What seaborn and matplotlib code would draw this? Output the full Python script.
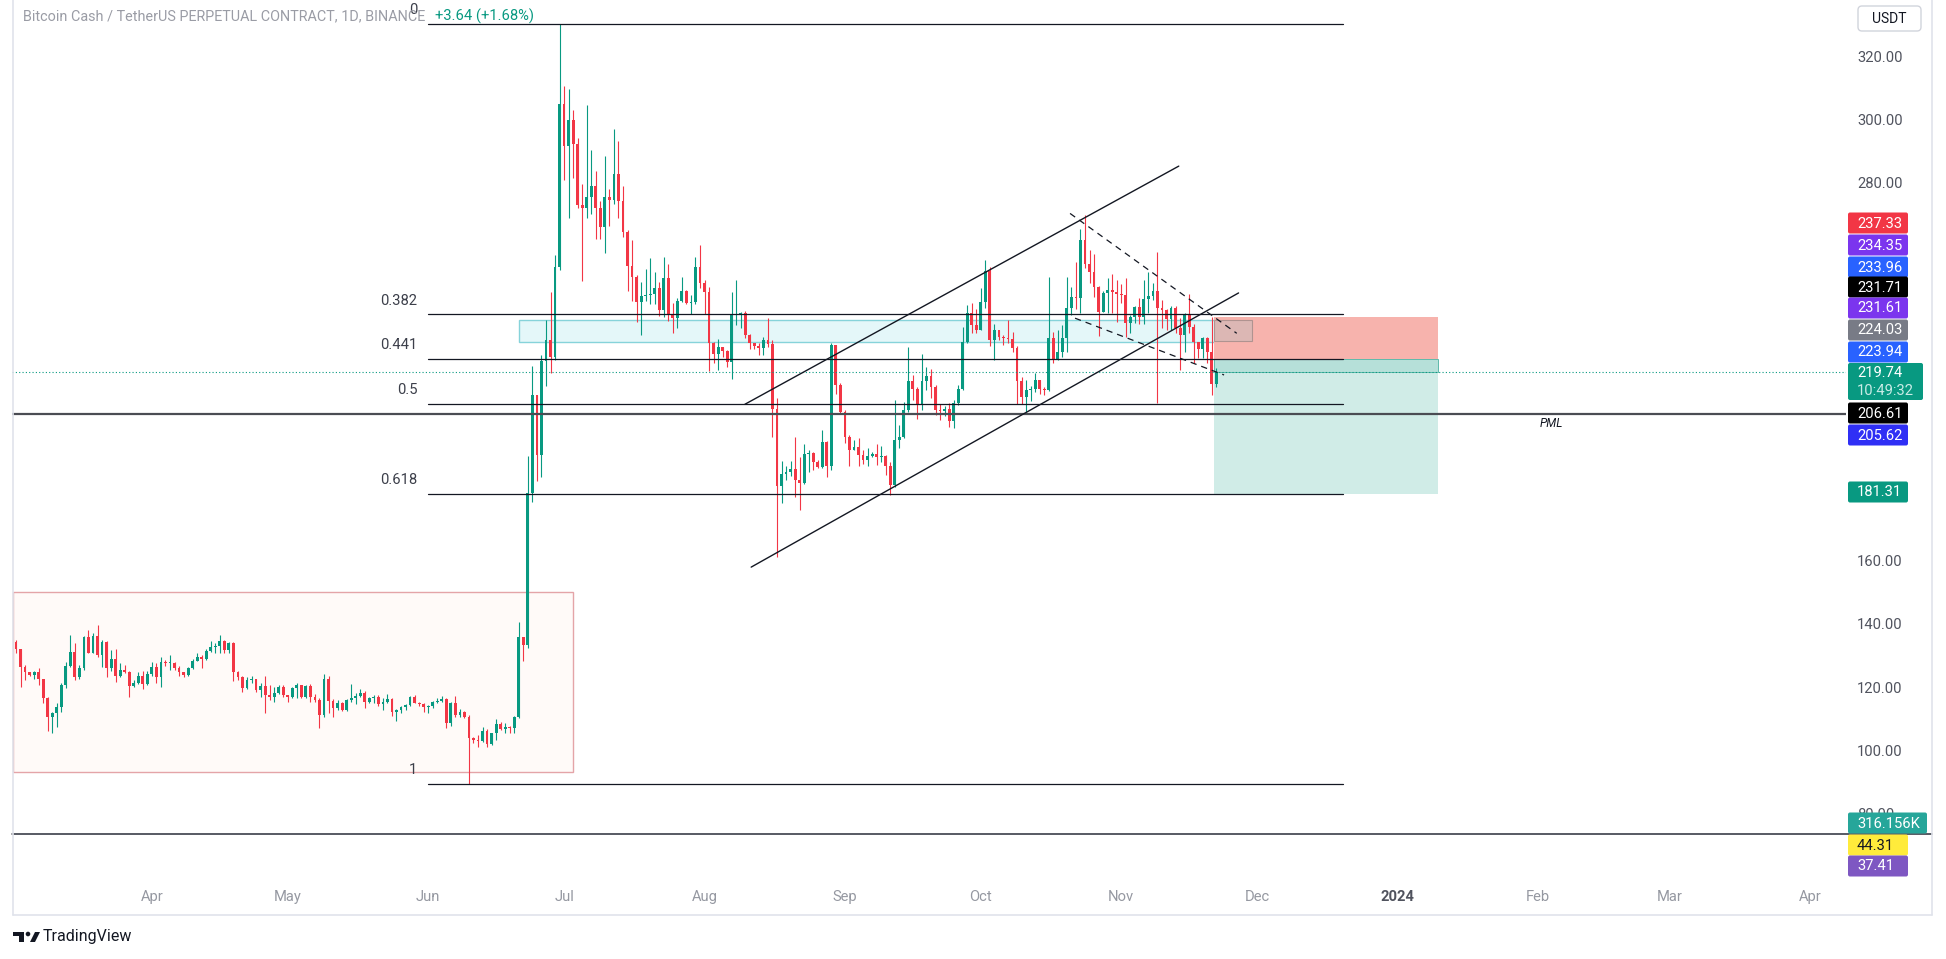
import matplotlib
matplotlib.use("Agg")
import matplotlib.pyplot as plt
import matplotlib.dates as mdates
from matplotlib.patches import Rectangle, FancyBboxPatch, Circle, Polygon
import pandas as pd
import seaborn as sns

# ---- daily candles, BCH/USDT perp, 2023-03-02 .. 2023-11-22 ----
first_day = "2023-03-02"
first_open = 134.4

closes = [
    131.9, 126.4, 124.6, 123.8, 124.9, 122.4, 116.4, 110.4, 111.9, 113.6,
    120.6, 126.7, 131.2, 123.1, 125.9, 135.8, 130.9, 136.2, 130.2, 134.4,
    125.9, 128.8, 123.5, 125.4, 124.9, 120.3, 121.4, 123.5, 121.0, 124.1,
    126.4, 123.1, 128.0, 127.5, 127.7, 125.9, 124.6, 123.8, 125.9, 128.4,
    129.4, 128.8, 131.5, 132.6, 133.0, 134.7, 131.7, 134.1, 124.9, 123.1,
    119.6, 122.2, 122.4, 119.1, 120.3, 117.5, 116.9, 118.2, 120.1, 117.5,
    116.9, 119.6, 120.6, 116.9, 120.3, 116.9, 115.9, 111.2, 122.4, 115.7,
    113.2, 115.0, 112.7, 115.9, 116.4, 117.2, 118.2, 115.4, 116.4, 116.9,
    114.6, 115.4, 116.1, 112.2, 112.7, 113.6, 114.3, 116.9, 115.0, 114.6,
    113.6, 114.0, 115.4, 115.7, 116.1, 108.7, 115.0, 111.2, 112.2, 110.4,
    103.7, 103.2, 103.0, 105.9, 102.0, 105.3, 108.3, 106.6, 107.4, 106.9,
    110.4, 136.0, 133.3, 181.6, 212.5, 193.5, 223.4, 230.0, 224.7, 253.1,
    304.8, 291.5, 299.7, 292.1, 272.8, 271.8, 275.4, 278.8, 271.8, 265.7,
    275.4, 274.4, 282.6, 274.1, 264.2, 253.4, 250.0, 242.0, 243.9, 244.2,
    244.6, 246.5, 239.5, 249.6, 238.2, 237.0, 242.4, 245.5, 241.6, 242.0,
    253.1, 248.0, 245.2, 228.9, 225.5, 227.7, 226.4, 223.0, 237.8, 238.2,
    238.6, 231.5, 228.9, 228.0, 227.3, 229.9, 228.7, 208.0, 183.7, 187.5,
    188.3, 189.0, 185.6, 184.7, 193.8, 194.2, 191.4, 189.8, 197.7, 190.0,
    228.4, 215.7, 207.2, 199.3, 195.1, 196.1, 193.5, 191.9, 193.2, 194.0,
    193.0, 193.2, 190.0, 184.0, 198.3, 199.3, 207.8, 217.1, 214.3, 209.3,
    217.1, 218.5, 215.2, 207.8, 207.6, 208.2, 204.4, 210.1, 214.6, 229.4,
    238.4, 234.7, 233.3, 242.1, 252.0, 230.0, 233.1, 231.0, 230.5, 230.2,
    227.3, 217.0, 212.0, 214.1, 214.6, 217.3, 214.4, 214.0, 230.5, 223.6,
    226.3, 230.5, 240.0, 243.7, 243.2, 261.7, 254.1, 251.6, 246.9, 239.0,
    245.0, 245.8, 245.3, 244.6, 244.3, 235.3, 237.4, 240.3, 237.2, 243.0,
    243.9, 245.6, 240.0, 239.5, 236.5, 240.0, 233.7, 231.6, 237.9, 234.0,
    229.5, 227.0, 230.5, 226.3, 216.1, 219.74,
]

highs = [
    134.9, 131.9, 127.0, 124.9, 125.2, 126.0, 122.4, 116.7, 112.2, 114.8,
    121.4, 128.0, 136.5, 133.8, 127.0, 136.2, 138.1, 137.0, 139.7, 134.9,
    134.7, 131.7, 131.9, 127.7, 127.0, 125.2, 122.2, 124.9, 125.2, 125.2,
    128.0, 127.5, 129.6, 128.6, 130.2, 128.0, 126.7, 124.9, 126.4, 128.8,
    130.7, 130.2, 132.0, 134.7, 134.0, 136.5, 134.9, 134.4, 134.4, 125.2,
    123.5, 123.1, 123.5, 121.7, 121.2, 123.5, 120.6, 119.9, 120.6, 120.6,
    117.5, 119.9, 121.2, 120.3, 120.6, 120.9, 117.7, 116.6, 124.1, 123.5,
    116.1, 115.9, 115.4, 116.1, 120.9, 118.2, 119.3, 118.6, 116.9, 117.5,
    117.5, 116.4, 117.8, 116.4, 112.9, 114.0, 114.6, 117.2, 117.5, 115.4,
    114.8, 114.3, 115.7, 116.4, 117.2, 116.4, 115.4, 117.2, 112.9, 112.5,
    111.2, 104.3, 104.8, 107.2, 106.6, 105.5, 109.8, 109.0, 108.7, 107.6,
    110.8, 140.7, 136.0, 193.2, 221.8, 212.5, 225.2, 236.3, 245.2, 256.9,
    330.15, 310.5, 309.6, 302.9, 294.0, 279.4, 304.5, 290.2, 283.5, 274.0,
    288.3, 277.9, 296.9, 293.1, 278.8, 264.8, 261.7, 250.5, 248.4, 252.6,
    256.0, 251.5, 248.4, 256.4, 254.1, 241.6, 243.3, 250.0, 245.8, 244.2,
    256.4, 260.2, 249.0, 246.7, 229.3, 230.2, 227.7, 226.9, 245.2, 249.0,
    238.9, 239.1, 231.8, 229.0, 229.0, 231.0, 236.8, 230.0, 211.5, 191.7,
    190.0, 191.5, 199.3, 192.9, 197.0, 195.1, 194.6, 191.9, 201.6, 197.9,
    228.9, 225.7, 216.2, 207.7, 199.8, 198.3, 198.8, 195.1, 195.6, 194.6,
    197.0, 196.4, 193.5, 191.4, 211.0, 203.0, 210.4, 227.8, 218.9, 215.2,
    225.7, 221.3, 220.7, 215.7, 209.8, 209.0, 209.9, 210.9, 215.7, 234.2,
    241.0, 241.6, 239.7, 246.5, 255.5, 253.0, 235.2, 233.2, 231.5, 236.3,
    232.6, 228.0, 218.4, 217.3, 215.5, 219.4, 217.3, 215.0, 250.1, 232.6,
    233.2, 234.7, 250.1, 246.7, 254.8, 265.1, 269.6, 258.5, 257.2, 247.2,
    245.6, 249.5, 250.9, 249.0, 247.6, 249.5, 237.9, 240.8, 243.2, 249.0,
    251.6, 248.0, 258.0, 242.7, 239.7, 240.8, 240.8, 236.9, 238.4, 244.6,
    234.9, 229.5, 231.0, 230.8, 237.4, 221.0,
]

lows = [
    130.7, 119.9, 122.2, 123.5, 122.4, 120.6, 114.8, 106.2, 105.3, 107.4,
    112.2, 119.6, 126.4, 122.2, 122.4, 125.4, 130.7, 130.7, 129.6, 126.4,
    123.1, 125.2, 121.7, 123.1, 124.4, 116.7, 119.9, 120.9, 119.3, 120.6,
    123.5, 121.4, 119.9, 126.7, 125.4, 125.4, 123.5, 123.1, 123.5, 125.6,
    128.2, 126.0, 128.6, 131.2, 130.9, 130.7, 130.7, 130.7, 122.0, 122.2,
    118.5, 119.3, 121.4, 118.5, 116.9, 111.9, 115.9, 115.4, 117.8, 116.9,
    115.4, 116.4, 116.4, 116.4, 116.6, 115.4, 115.4, 107.1, 110.4, 111.7,
    110.4, 112.7, 112.5, 112.5, 115.4, 114.6, 116.9, 113.2, 114.8, 115.0,
    113.9, 112.7, 114.8, 110.8, 109.3, 111.7, 112.7, 113.9, 114.8, 113.9,
    112.2, 111.9, 113.2, 114.8, 115.4, 106.9, 107.6, 110.4, 110.4, 110.1,
    89.3, 102.2, 100.9, 102.7, 100.9, 101.6, 103.2, 106.4, 105.3, 105.3,
    105.5, 110.1, 128.4, 132.5, 178.6, 185.4, 186.6, 215.4, 219.6, 223.7,
    252.2, 280.7, 268.7, 281.3, 271.8, 248.8, 268.7, 269.9, 261.9, 261.9,
    257.6, 266.0, 273.1, 268.7, 262.7, 245.5, 242.4, 235.7, 231.5, 242.4,
    241.4, 241.4, 237.6, 237.3, 236.1, 232.3, 233.8, 242.0, 241.4, 238.2,
    241.4, 246.5, 238.2, 220.1, 222.6, 220.5, 224.5, 221.4, 217.6, 234.8,
    233.8, 230.6, 227.2, 227.2, 225.2, 225.2, 227.8, 199.3, 161.3, 178.4,
    185.6, 186.8, 180.3, 176.1, 184.5, 188.2, 188.7, 189.3, 189.3, 186.6,
    188.7, 213.0, 206.7, 197.2, 190.0, 195.0, 190.0, 190.8, 190.0, 193.0,
    190.3, 191.4, 187.2, 180.8, 183.5, 195.6, 198.8, 207.2, 210.9, 205.1,
    207.8, 214.1, 211.5, 206.2, 204.6, 206.0, 202.5, 202.0, 209.3, 214.1,
    228.9, 232.1, 232.3, 233.1, 240.0, 228.0, 223.6, 230.0, 228.4, 229.0,
    226.3, 209.7, 209.7, 207.3, 210.5, 213.6, 213.0, 212.6, 213.8, 222.6,
    224.7, 224.7, 226.3, 237.9, 239.9, 238.4, 252.8, 248.0, 243.7, 231.3,
    239.0, 238.4, 238.4, 235.8, 241.6, 230.8, 232.1, 235.3, 235.1, 235.1,
    238.4, 242.7, 209.9, 233.7, 233.1, 233.1, 232.1, 220.5, 226.3, 232.1,
    222.6, 224.2, 224.2, 222.6, 212.6, 215.2,
]

# fib retracement (swing high -> swing low)
fib_high = 330.15
fib_low = 89.3
fib_levels = [0, 0.382, 0.441, 0.5, 0.618, 1]
fib_names = ["0", "0.382", "0.441", "0.5", "0.618", "1"]

# short position tool
entry_price = 223.94
stop_price = 237.33
target_price = 181.31
last_price = 219.74

pml_price = 206.61
ob_top, ob_bottom = 236.3, 229.3          # cyan order block
range_top, range_bottom = 150.0, 93.1     # pink accumulation box
bottom_line_price = 73.4

# price-axis ticks that are not hidden behind the tags
price_ticks = [80, 100, 120, 140, 160, 280, 300, 320]

month_ticks = ["2023-04-01", "2023-05-01", "2023-06-01", "2023-07-01", "2023-08-01",
               "2023-09-01", "2023-10-01", "2023-11-01", "2023-12-01", "2024-01-01",
               "2024-02-01", "2024-03-01", "2024-04-01"]
month_labels = ["Apr", "May", "Jun", "Jul", "Aug", "Sep", "Oct", "Nov", "Dec", "2024",
                "Feb", "Mar", "Apr"]

# right-axis price tags: (y pixel centre, text, background, text colour)
axis_tags = [
    (223, "237.33", "#f23645", "white"),
    (245, "234.35", "#7b35ee", "white"),
    (267, "233.96", "#2962ff", "white"),
    (287, "231.71", "#000000", "white"),
    (308, "231.61", "#7b35ee", "white"),
    (330, "224.03", "#787b86", "white"),
    (352, "223.94", "#2962ff", "white"),
    (413, "206.61", "#000000", "white"),
    (435, "205.62", "#2f2ff5", "white"),
    (492, "181.31", "#089981", "white"),
    (823, "316.156K", "#26a69a", "white"),
    (845, "44.31", "#ffeb3b", "#131722"),
    (866, "37.41", "#7e57c2", "white"),
]

# ---------------------------------------------------------------
W, H = 1946, 959
sns.set_theme(style="white")
plt.rcParams["font.family"] = ["Roboto", "DejaVu Sans"]

fig = plt.figure(figsize=(W / 100, H / 100), dpi=100)
fig.patch.set_facecolor("white")
# price pane: x 12..1846 px, y 0..880 px
ax = fig.add_axes([12 / W, (H - 880) / H, 1834 / W, 880 / H])
ax.set_facecolor("white")
for s in ax.spines.values():
    s.set_visible(False)

d0 = mdates.date2num(pd.Timestamp(first_day))
dates = [d0 + i for i in range(len(closes))]
opens = [first_open] + closes[:-1]


def day(i):
    return d0 + i


GREEN, RED = "#089981", "#f23645"
cols = [GREEN if c >= o else RED for o, c in zip(opens, closes)]
hi = [max(h, o, c) for h, o, c in zip(highs, opens, closes)]
lo = [min(l, o, c) for l, o, c in zip(lows, opens, closes)]
ax.vlines(dates, lo, hi, colors=cols, lw=0.8, zorder=3)
bottoms = [min(o, c) for o, c in zip(opens, closes)]
heights = [max(abs(c - o), 0.3) for o, c in zip(opens, closes)]
ax.bar(dates, heights, bottom=bottoms, width=0.62, color=cols, lw=0, zorder=3)

ax.set_xlim(day(-0.883), day(404.0))
ax.set_ylim(58.83, 337.75)

# pink range box
ax.add_patch(Rectangle((day(-0.7), range_bottom), 123.7, range_top - range_bottom,
                       fc="#fffaf8", ec="#e4a4a8", lw=1.0, zorder=1))
# cyan order block
ax.add_patch(Rectangle((day(111.0), ob_bottom), 162.1, ob_top - ob_bottom,
                       fc="#e4f7f9", ec="#86d3da", lw=1.0, zorder=1.5))

# fib levels
fib_x0, fib_x1 = day(90.9), day(292.9)
for lvl, name in zip(fib_levels, fib_names):
    p = fib_high - lvl * (fib_high - fib_low)
    ax.plot([fib_x0, fib_x1], [p, p], color="#131722", lw=0.9, zorder=4)
    ax.annotate(name, (fib_x0, p), xytext=(-7.5, 9.8), textcoords="offset points",
                ha="right", va="center", fontsize=10.6, color="#3c3f4a", zorder=5)

# PML and current price
ax.axhline(pml_price, color="#4a4c53", lw=1.6, zorder=4)
ax.annotate("PML", (day(338.9), pml_price), xytext=(0, -2.5), textcoords="offset points",
            ha="center", va="top", fontsize=8.5, style="italic", color="#131722")
ax.axhline(last_price, color=GREEN, lw=0.8, ls=(0, (1, 2)), zorder=4)
ax.axhline(bottom_line_price, xmin=0, xmax=(1932 - 12) / 1834, color="#2a2e39",
           lw=1.1, clip_on=False, zorder=4)

# position tool
px0, pw = day(264.5), 49.4
ax.add_patch(Rectangle((px0, entry_price), pw, stop_price - entry_price,
                       fc="#f7b3ad", ec="none", zorder=2))
ax.add_patch(Rectangle((px0, target_price), pw, entry_price - target_price,
                       fc="#d0ece7", ec="none", zorder=2))
ax.add_patch(Rectangle((px0, last_price), pw, entry_price - last_price,
                       fc="#b6e0d9", ec="#5fb9aa", lw=0.7, zorder=2.2))
ax.add_patch(Rectangle((px0, 229.7), 8.4, 6.6, fc="#bdbdbd", alpha=0.45,
                       ec="#6b6b6b", lw=0.8, zorder=2.5))

# ascending channel
ax.plot([day(160.9), day(256.7)], [209.6, 285.1], color="#131722", lw=1.0, zorder=4)
ax.plot([day(162.3), day(269.9)], [158.0, 244.9], color="#131722", lw=1.0, zorder=4)
# falling dashed lines
ax.plot([day(232.7), day(269.5)], [270.1, 232.1], color="#131722", lw=0.9,
        ls=(0, (5, 4)), zorder=4)
ax.plot([day(233.8), day(266.7)], [236.9, 218.9], color="#131722", lw=0.9,
        ls=(0, (5, 4)), zorder=4)

# axes ticks
ax.yaxis.tick_right()
ax.set_yticks(price_ticks)
ax.set_yticklabels([f"{v:.2f}" for v in price_ticks])
ax.tick_params(axis="y", length=0, pad=8, labelsize=10.6, labelcolor="#50535e")
ax.set_xticks([mdates.date2num(pd.Timestamp(d)) for d in month_ticks])
ax.set_xticklabels(month_labels)
ax.tick_params(axis="x", length=0, pad=7, labelsize=10.6, labelcolor="#9598a1")
for t in ax.get_xticklabels():
    if t.get_text() == "2024":
        t.set_fontweight("bold")
        t.set_color("#50535e")
ax.grid(False)

# ---- overlay in pixel coordinates ----
ov = fig.add_axes([0, 0, 1, 1], zorder=10)
ov.set_xlim(0, W)
ov.set_ylim(H, 0)
ov.axis("off")
ov.patch.set_alpha(0)

for yc, txt, bg, fg in axis_tags:
    w = 79 if txt.endswith("K") else 60
    ov.add_patch(FancyBboxPatch((1848, yc - 10.5), w, 21,
                                boxstyle="round,pad=0,rounding_size=2", fc=bg, ec="none"))
    ov.text(1857, yc + 0.5, txt, color=fg, ha="left", va="center", fontsize=10.6)

# last price tag with countdown
ov.add_patch(FancyBboxPatch((1848, 363), 75, 37, boxstyle="round,pad=0,rounding_size=2",
                            fc=GREEN, ec="none"))
ov.text(1857, 373, "219.74", color="white", ha="left", va="center", fontsize=10.6)
ov.text(1857, 391, "10:49:32", color="#c8ece6", ha="left", va="center", fontsize=10.6)

# USDT box
ov.add_patch(FancyBboxPatch((1858, 6), 63, 25, boxstyle="round,pad=0,rounding_size=4",
                            fc="white", ec="#d1d4dc", lw=1.0))
ov.text(1889.5, 19, "USDT", color="#131722", ha="center", va="center", fontsize=10)

# chart frame
ov.plot([12.5, 12.5], [0, 914.5], color="#e0e3eb", lw=1.2)
ov.plot([12.5, 1932], [914.5, 914.5], color="#e0e3eb", lw=1.2)
ov.plot([1932, 1932], [0, 914.5], color="#e0e3eb", lw=1.2)

# title
title = ov.text(23, 16, "Bitcoin Cash / TetherUS PERPETUAL CONTRACT, 1D, BINANCE",
                color="#9a9ca5", ha="left", va="center", fontsize=10.4)
fig.canvas.draw()
bb = title.get_window_extent()
ov.text(bb.x1 + 10, 16, "+3.64 (+1.68%)", color=GREEN, ha="left", va="center",
        fontsize=10.6)

# TradingView logo
ov.add_patch(Rectangle((13, 932), 11, 4, fc="#131722", ec="none"))
ov.add_patch(Rectangle((18.5, 932), 5.5, 10, fc="#131722", ec="none"))
ov.add_patch(Circle((28, 934), 2.3, fc="#131722", ec="none"))
ov.add_patch(Polygon([(30, 942), (35, 942), (40, 932), (35, 932)], closed=True,
                     fc="#131722", ec="none"))
ov.text(43, 937, "TradingView", color="#131722", ha="left", va="center", fontsize=11.5)

fig.savefig("out.png", dpi=100)
